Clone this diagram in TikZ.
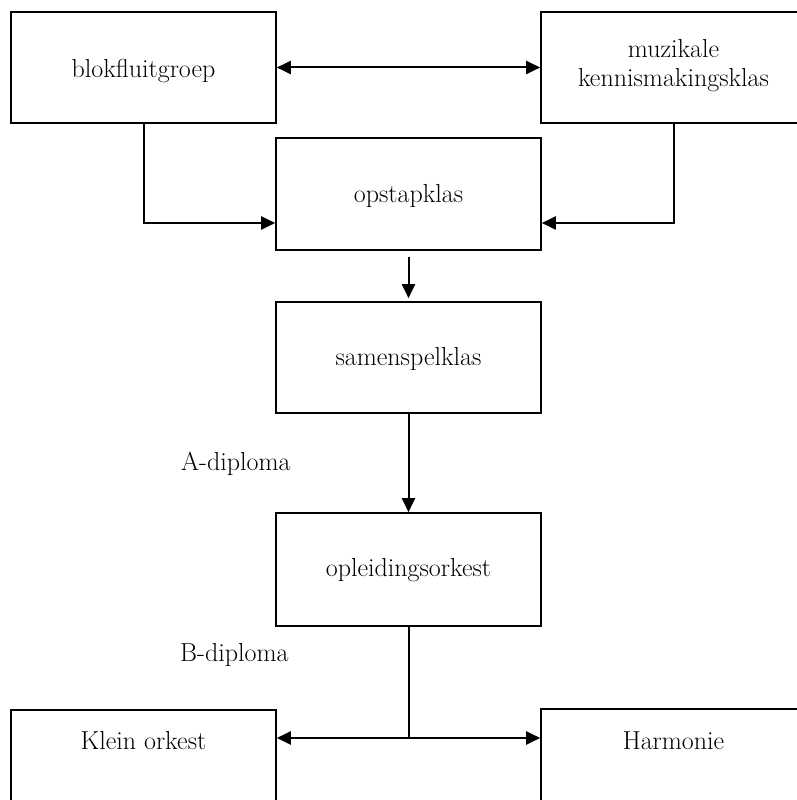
\documentclass[tikz,border=0pt]{standalone}
\usepackage{fontspec}
\usetikzlibrary{arrows.meta}
\begin{document}
\begin{tikzpicture}[x=1pt,y=1pt,
  box/.style={draw=black,line width=1.6pt,minimum width=265pt,minimum height=111pt,inner sep=0pt},
  txt/.style={anchor=base,inner sep=0pt,font=\fontsize{26}{30}\selectfont,align=center},
  arr/.style={line width=2pt,-{Triangle[length=14pt,width=13pt]}},
  darr/.style={line width=2pt,{Triangle[length=14pt,width=13pt]}-{Triangle[length=14pt,width=13pt]}},
  ln/.style={line width=2pt}]
\useasboundingbox (0,0) rectangle (797,800);
% boxes
\node[box] (blok) at (143.5,732.5) {};
\node[box] (muz) at (673.5,732.5) {};
\node[box,minimum height=112pt] (opstap) at (408.5,606) {};
\node[box] (samen) at (408.5,442.5) {};
\node[box,minimum height=113pt] (oplei) at (408.5,230.5) {};
\node[box,minimum height=112pt] (klein) at (143.5,34) {};
\node[box,minimum height=112pt] (harm) at (673.5,35) {};
% texts
\node[txt] (blokt) at (143.5,722) {blokfluitgroep};
\node[txt] (muzt1) at (673.5,742.5) {muzikale};
\node[txt] (muzt2) at (673.5,713) {kennismakingsklas};
\node[txt] (opstapt) at (408.5,597) {opstapklas};
\node[txt] (savent) at (408.5,434) {samenspelklas};
\node[txt] (opleit) at (408.5,223) {opleidingsorkest};
\node[txt] (kleint) at (143.5,50) {Klein orkest};
\node[txt] (harmt) at (673.5,50) {Harmonie};
\node[txt,anchor=base west] (adip) at (181,329) {A-diploma};
\node[txt,anchor=base west] (bdip) at (180,138) {B-diploma};
% connectors
\draw[darr] (blok.east) -- (muz.west);
\draw[arr] (blok.south) |- ([yshift=-29pt]opstap.west);
\draw[arr] (muz.south) |- ([yshift=-29pt]opstap.east);
\draw[arr] ([yshift=-6pt]opstap.south) -- ([yshift=3pt]samen.north);
\draw[arr] (samen.south) -- (oplei.north);
\coordinate (split) at (408.5,62);
\draw[ln] (oplei.south) -- (split);
\draw[darr] ([yshift=28pt]klein.east) -- ([yshift=27pt]harm.west);
\end{tikzpicture}
\end{document}
